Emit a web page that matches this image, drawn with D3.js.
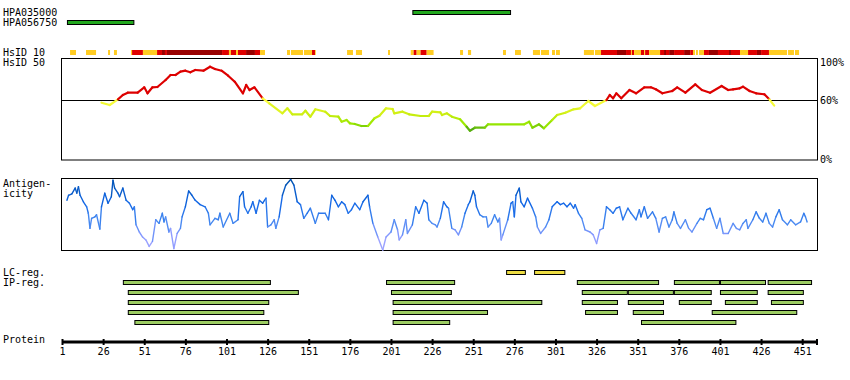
<!DOCTYPE html>
<html>
<head>
<meta charset="utf-8">
<script src="https://cdn.jsdelivr.net/npm/d3@7"></script>
<style>
  html, body { margin: 0; padding: 0; background: #fff; }
  svg text { font-family: "DejaVu Sans Mono", monospace; font-size: 10px; fill: #000; }
</style>
</head>
<body>
<div id="chart"></div>
<script>
// ---------------- DATA ----------------
const proteinLength = 460;
const axisTicks = [1, 26, 51, 76, 101, 126, 151, 176, 201, 226, 251, 276, 301, 326, 351, 376, 401, 426, 451];

const hpaNames = ["HPA035000", "HPA056750"];
const hpaStart = [214, 4];
const hpaEnd = [274, 45];

// HsID 10 strip: [start, end, level] level 1 = yellow, 2 = red, 3 = dark red
const hsid10 = [
  [5.9, 9.5, 1], [15.6, 21.7, 1], [29, 30.2, 1], [32.6, 34.4, 1], [42.9, 43.6, 1],
  [43.6, 50.2, 2], [50.2, 58.8, 1], [58.8, 61.8, 2], [61.8, 63.6, 3], [63.6, 64.8, 2],
  [64.8, 98.3, 3], [98.3, 102.5, 2], [102.5, 103.7, 1], [103.7, 106.8, 2], [106.8, 108, 1],
  [108, 112.9, 2], [112.9, 118.3, 3], [118.3, 121.4, 2], [121.4, 124.4, 1],
  [137.8, 139.6, 1], [140.2, 147.5, 1], [148.1, 153, 1], [153, 154.8, 2], [154.8, 155.2, 1],
  [174.3, 177.9, 1], [179.7, 183.4, 1], [199.2, 200.4, 1],
  [213, 214.8, 1], [214.8, 216.6, 2], [216.6, 219, 1], [219, 222.7, 2], [222.7, 226.9, 1],
  [243, 244.8, 1], [247.8, 249.7, 1], [269.1, 270.9, 1], [276.4, 280, 1],
  [287.3, 291.6, 1], [292.2, 297.1, 1], [298.9, 300.7, 1], [301.3, 303.7, 1],
  [318.3, 324.4, 1], [325, 328.7, 1], [328.7, 338.4, 2], [338.4, 343.9, 3], [343.9, 346.9, 2],
  [346.9, 347.5, 1], [347.5, 348.8, 2], [348.8, 353, 1], [353, 354.9, 2], [354.9, 355.5, 1],
  [355.5, 357.9, 2], [357.9, 364.6, 1], [364.6, 367, 2], [367, 368.2, 3], [368.2, 370.1, 2],
  [370.1, 373.1, 3], [373.1, 379.2, 2], [379.2, 382.9, 3], [382.9, 384.6, 2], [384.6, 385.8, 1],
  [386.4, 387.6, 1], [388.3, 391.3, 1], [391.3, 394.3, 2], [394.3, 399.8, 3], [399.8, 406.5, 2],
  [406.5, 407.7, 3], [407.7, 413.2, 2], [413.2, 418.1, 1], [418.1, 423.5, 2], [423.5, 426, 3],
  [426, 430.8, 2], [430.8, 441.8, 1], [442.4, 446, 1], [446.6, 449.1, 1]
];

// HsID 50 identity (%)
const hsid50Res = [25, 30, 35, 38, 41, 47, 51, 53, 56, 59, 64, 67, 70, 73, 76, 79, 82, 87, 91, 94,
  98, 102, 106, 111, 113, 115, 118, 123, 127, 135, 138, 141, 147, 149, 152, 155, 161, 164, 169, 171,
  174, 176, 179, 183, 187, 191, 194, 198, 202, 203, 208, 212, 219, 224, 226, 231, 232, 235, 238, 243,
  247, 249, 252, 258, 260, 282, 285, 287, 291, 294, 299, 302, 307, 312, 316, 321, 325, 332, 334, 336,
  338, 341, 346, 350, 355, 359, 362, 366, 372, 375, 380, 386, 390, 395, 402, 406, 409, 413, 415, 419,
  423, 428, 431, 434];
const hsid50Val = [57.3, 55, 60.7, 65, 67.3, 67.3, 72.7, 66.7, 72.7, 73, 80, 85, 85, 88.3, 89.3, 87.7, 90, 89.3, 93.3, 91,
  89.3, 84.3, 78.3, 66.7, 75, 70, 72.7, 61.7, 56.7, 46.7, 51.7, 45.7, 45.7, 49.3, 43.3, 50.7, 48.3, 44, 43.3, 38.3,
  40, 36.7, 36, 34, 34, 41.7, 44.3, 51.7, 51, 46.7, 48.3, 45.7, 44, 44, 48.3, 47.7, 45, 46.7, 43.3, 40.7,
  33.3, 29.3, 32.3, 32.3, 35.7, 35.7, 38.3, 32.3, 35.7, 31.7, 40, 45, 47.3, 50.7, 51.7, 59, 54, 60, 65, 61.7,
  66.7, 61.7, 70, 66.7, 72.7, 72.7, 70.7, 66.7, 69, 72.7, 67.3, 75.7, 70, 67.3, 74, 70, 70.7, 71.7, 73.3, 69,
  66.7, 65.7, 60.7, 54.3];
const hsidThreshold = 60;

// Antigenicity (relative score 0-100)
const antiRes = [4, 5, 7, 9, 10, 11, 12, 14, 16, 17, 18, 19, 21, 22, 24, 25, 27, 29, 31, 32,
  33, 35, 36, 38, 40, 42, 44, 45, 46, 48, 50, 52, 54, 56, 58, 60, 62, 63, 64, 66,
  67, 69, 71, 73, 74, 76, 78, 80, 82, 85, 88, 90, 91, 94, 96, 97, 99, 103, 105, 108,
  109, 111, 112, 114, 116, 117, 119, 121, 123, 125, 126, 128, 130, 131, 133, 135, 137, 140, 142, 144,
  146, 148, 150, 152, 155, 157, 161, 163, 165, 167, 169, 171, 173, 175, 177, 179, 182, 184, 187, 188,
  190, 193, 196, 198, 201, 203, 205, 206, 208, 210, 211, 214, 216, 218, 221, 223, 224, 226, 228, 229,
  231, 233, 235, 236, 238, 240, 242, 244, 246, 248, 249, 251, 252, 253, 255, 257, 259, 260, 262, 264,
  266, 267, 268, 269, 272, 274, 275, 276, 277, 279, 280, 282, 284, 287, 289, 290, 292, 295, 297, 299,
  302, 304, 306, 308, 310, 312, 313, 315, 317, 319, 322, 324, 326, 328, 330, 332, 334, 336, 338, 340,
  342, 345, 347, 350, 352, 353, 355, 357, 360, 362, 364, 366, 368, 370, 372, 373, 375, 377, 380, 382,
  384, 387, 389, 391, 393, 395, 397, 399, 401, 403, 406, 409, 411, 413, 415, 417, 418, 421, 423, 425,
  427, 429, 431, 433, 435, 437, 439, 442, 444, 447, 450, 452, 453, 454];
const antiVal = [69, 76, 78, 86, 79, 88, 76, 67, 60, 51, 30, 44, 46, 49, 29, 60, 79, 65, 74, 97,
  86, 79, 74, 86, 69, 65, 56, 60, 35, 25, 18, 14, 5, 12, 42, 37, 51, 39, 46, 25,
  30, 2, 23, 30, 46, 60, 82, 76, 69, 63, 60, 51, 35, 44, 42, 51, 32, 51, 37, 42,
  74, 81, 60, 51, 60, 67, 51, 69, 65, 72, 32, 35, 42, 30, 46, 76, 90, 98, 90, 67,
  63, 44, 51, 58, 37, 51, 51, 42, 76, 69, 60, 67, 63, 51, 56, 65, 56, 67, 76, 60,
  37, 18, 0, 18, 25, 42, 28, 14, 21, 42, 23, 35, 60, 51, 69, 65, 42, 37, 35, 32,
  44, 67, 60, 58, 30, 28, 21, 32, 51, 63, 67, 82, 76, 60, 49, 46, 46, 32, 37, 49,
  39, 44, 14, 21, 42, 65, 67, 46, 76, 86, 67, 60, 72, 58, 46, 32, 23, 32, 42, 60,
  67, 63, 65, 60, 65, 58, 63, 51, 44, 28, 25, 21, 9, 28, 30, 60, 56, 51, 58, 60,
  42, 58, 51, 42, 56, 46, 60, 44, 53, 44, 25, 44, 46, 32, 42, 53, 37, 30, 42, 30,
  25, 37, 44, 42, 56, 58, 44, 30, 44, 23, 23, 37, 30, 28, 37, 42, 30, 42, 53, 44,
  39, 51, 37, 32, 46, 56, 42, 35, 42, 35, 39, 51, 46, 39];

// LC regions
const lcStart = [271, 288];
const lcEnd = [283, 307];

// IP regions (row index, start, end)
const ipRow = [0, 0, 0, 0, 0, 0,  1, 1, 1, 1, 1, 1, 1,  2, 2, 2, 2, 2, 2, 2,  3, 3, 3, 3, 3,  4, 4, 4];
const ipStart = [38, 198, 314, 373, 401, 430,  41, 201, 317, 345, 373, 401, 430,  41, 202, 317, 345, 376, 404, 432,  41, 202, 319, 348, 396,  45, 202, 353];
const ipEnd = [128, 240, 364, 401, 429, 457,  145, 238, 345, 373, 396, 424, 452,  127, 293, 339, 367, 396, 424, 452,  124, 260, 339, 367, 448,  127, 237, 411];

const rightLabels = ["100%", "60%", "0%"];

// ---------------- DRAW ----------------
const W = 850, H = 380;
const svg = d3.select("#chart").append("svg").attr("width", W).attr("height", H)
  .style("display", "block");
svg.append("rect").attr("width", W).attr("height", H).attr("fill", "#fff");

const x = d3.scaleLinear().domain([1, proteinLength]).range([62, 817]);

// left labels
const leftLabels = [
  ["HPA035000", 16], ["HPA056750", 26], ["HsID 10", 56], ["HsID 50", 65.5],
  ["Antigen-", 187], ["icity", 197], ["LC-reg.", 276], ["IP-reg.", 286], ["Protein", 343]
];
svg.selectAll("text.left").data(leftLabels).join("text").attr("class", "left")
  .attr("x", 3).attr("y", d => d[1]).text(d => d[0]);

// HPA antigen bars
svg.selectAll("rect.hpa").data(hpaNames).join("rect").attr("class", "hpa")
  .attr("x", (d, i) => x(hpaStart[i]) + 0.5)
  .attr("y", (d, i) => 10.5 + i * 10)
  .attr("width", (d, i) => x(hpaEnd[i]) - x(hpaStart[i]) - 1)
  .attr("height", 4)
  .attr("fill", "#22a81e").attr("stroke", "#000").attr("stroke-width", 1);

// HsID 10 strip
const levelColor = { 1: "#ffcc22", 2: "#e00000", 3: "#990000" };
svg.selectAll("rect.h10").data(hsid10).join("rect").attr("class", "h10")
  .attr("x", d => x(d[0])).attr("y", 50)
  .attr("width", d => Math.max(0.8, x(d[1]) - x(d[0]))).attr("height", 5)
  .attr("fill", d => levelColor[d[2]]);

// HsID 50 panel
const yH = d3.scaleLinear().domain([0, 100]).range([160, 60]);
svg.append("rect").attr("x", 61.5).attr("y", 58.5).attr("width", 756).attr("height", 101.5)
  .attr("fill", "none").attr("stroke", "#000").attr("stroke-width", 1);
svg.append("line").attr("x1", 62).attr("x2", 817).attr("y1", Math.round(yH(hsidThreshold)) + 0.5)
  .attr("y2", Math.round(yH(hsidThreshold)) + 0.5).attr("stroke", "#000").attr("stroke-width", 1);

const lowColor = d3.scaleLinear().domain([29, 36, 46, 60])
  .range(["#3f9a14", "#99e800", "#ccee10", "#ffff40"]).clamp(true);
const hsColor = v => v >= hsidThreshold ? "#dd0000" : lowColor(v);

const hsPts = hsid50Res.map((r, i) => [r, hsid50Val[i]]);
svg.append("g").selectAll("line").data(d3.pairs(hsPts)).join("line")
  .attr("x1", d => x(d[0][0])).attr("y1", d => yH(d[0][1]))
  .attr("x2", d => x(d[1][0])).attr("y2", d => yH(d[1][1]))
  .attr("stroke", d => hsColor((d[0][1] + d[1][1]) / 2))
  .attr("stroke-width", 2.2).attr("stroke-linecap", "round");

svg.selectAll("text.right").data(rightLabels).join("text").attr("class", "right")
  .attr("x", 820)
  .attr("y", (d, i) => [66, 104, 163][i])
  .text(d => d);

// Antigenicity panel
const yA = d3.scaleLinear().domain([0, 100]).range([250, 178]);
svg.append("rect").attr("x", 61.5).attr("y", 178.5).attr("width", 756).attr("height", 72)
  .attr("fill", "none").attr("stroke", "#000").attr("stroke-width", 1);
const aColor = d3.scaleLinear().domain([0, 20, 40, 65, 100])
  .range(["#aaaaff", "#8899ff", "#4488f0", "#1166e6", "#0050a8"]).clamp(true);
const aPts = antiRes.map((r, i) => [r, antiVal[i]]);
svg.append("g").selectAll("line").data(d3.pairs(aPts)).join("line")
  .attr("x1", d => x(d[0][0])).attr("y1", d => yA(d[0][1]))
  .attr("x2", d => x(d[1][0])).attr("y2", d => yA(d[1][1]))
  .attr("stroke", d => aColor((d[0][1] + d[1][1]) / 2))
  .attr("stroke-width", 1.4).attr("stroke-linecap", "round");

// LC regions
svg.selectAll("rect.lc").data(lcStart).join("rect").attr("class", "lc")
  .attr("x", (d, i) => x(lcStart[i]) + 0.5).attr("y", 270.5)
  .attr("width", (d, i) => x(lcEnd[i]) - x(lcStart[i]) - 1).attr("height", 4)
  .attr("fill", "#eedd44").attr("stroke", "#000").attr("stroke-width", 1);

// IP regions
svg.selectAll("rect.ip").data(ipRow).join("rect").attr("class", "ip")
  .attr("x", (d, i) => x(ipStart[i]) + 0.5).attr("y", d => 280.5 + d * 10)
  .attr("width", (d, i) => x(ipEnd[i]) - x(ipStart[i]) - 1).attr("height", 4)
  .attr("fill", "#9ccc62").attr("stroke", "#000").attr("stroke-width", 1);

// Protein axis
const axisG = svg.append("g").attr("transform", "translate(0,342)");
const axis = d3.axisBottom(x).tickValues(axisTicks).tickSize(3).tickPadding(3).tickFormat(d3.format("d"));
axisG.call(axis);
axisG.select(".domain").remove();
axisG.selectAll(".tick line").attr("stroke", "#000").attr("stroke-width", 2).attr("y1", -3).attr("y2", 3);
axisG.selectAll(".tick text").attr("font-family", "DejaVu Sans Mono").attr("font-size", 10)
  .attr("fill", "#000").attr("y", 6).attr("dy", "0.71em");
axisG.append("line").attr("x1", 62).attr("x2", 818).attr("y1", 0).attr("y2", 0)
  .attr("stroke", "#000").attr("stroke-width", 3);
axisG.append("line").attr("x1", x(proteinLength)).attr("x2", x(proteinLength)).attr("y1", -3).attr("y2", 3)
  .attr("stroke", "#000").attr("stroke-width", 2);
</script>
</body>
</html>
